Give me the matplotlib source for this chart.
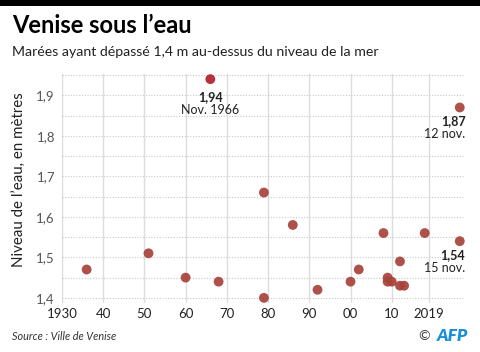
#!/usr/bin/env python3
# -*- coding: utf-8 -*-
import numpy as np
import matplotlib
matplotlib.use("Agg")
import matplotlib.pyplot as plt

# ---------------- Data ----------------
# years of the tides; the two Nov. 2019 tides are drawn in a separate slot right of 2019
YEARS = [1936, 1951, 1960, 1966, 1968, 1979, 1979, 1986, 1992, 2000, 2002,
         2008, 2009, 2009, 2010, 2012, 2012, 2013, 2018, 2026.5, 2026.5]
LEVELS = [1.47, 1.51, 1.45, 1.94, 1.44, 1.66, 1.40, 1.58, 1.42, 1.44, 1.47,
          1.56, 1.45, 1.44, 1.44, 1.49, 1.43, 1.43, 1.56, 1.87, 1.54]

XTICKS = [1930, 1940, 1950, 1960, 1970, 1980, 1990, 2000, 2010, 2019]
XTICK_LABELS = ["1930", "40", "50", "60", "70", "80", "90", "00", "10", "2019"]
YTICKS = [1.4, 1.5, 1.6, 1.7, 1.8, 1.9]
YTICK_LABELS = ["1,4", "1,5", "1,6", "1,7", "1,8", "1,9"]

# bold value, date label, index of point
NOTES = [("1,94", "Nov. 1966", 3), ("1,87", "12 nov.", 19), ("1,54", "15 nov.", 20)]

FONT = "Lato"
DOT = "#a6423a"
DOT_HI = "#b01e2c"
GRID = "#dddddd"
TXT = "#222222"
TICK = "#555555"

plt.rcParams["font.family"] = [FONT, "DejaVu Sans"]

fig = plt.figure(figsize=(4.8, 3.52), dpi=100)
ax = fig.add_axes([0.129, 0.140, 0.840, 0.649])

# ---------------- Grid ----------------
for x in XTICKS:
    ax.axvline(x, color=GRID, lw=1.0, zorder=0)
for y in np.arange(1.40, 1.951, 0.05):
    ax.axhline(y, color="#c8c8c8", lw=0.8, ls=(0, (1, 1.5)), zorder=0)

# ---------------- Points ----------------
colors = [DOT_HI if lv == max(LEVELS) else DOT for lv in LEVELS]
ax.scatter(YEARS, LEVELS, s=50, c=colors, alpha=0.92, edgecolors="none",
           zorder=3, clip_on=False)

# ---------------- Annotations ----------------
i = NOTES[0][2]
ax.annotate(NOTES[0][0], (YEARS[i], LEVELS[i]), xytext=(0, -13), textcoords="offset points",
            ha="center", va="center", fontsize=9, fontweight="bold", color=TXT)
ax.annotate(NOTES[0][1], (YEARS[i], LEVELS[i]), xytext=(0, -22), textcoords="offset points",
            ha="center", va="center", fontsize=9, color=TXT)
for val, lab, i in NOTES[1:]:
    ax.annotate(val, (YEARS[i], LEVELS[i]), xytext=(4, -10), textcoords="offset points",
                ha="right", va="center", fontsize=9, fontweight="bold", color=TXT)
    ax.annotate(lab, (YEARS[i], LEVELS[i]), xytext=(4, -19), textcoords="offset points",
                ha="right", va="center", fontsize=9, color=TXT)

# ---------------- Axes ----------------
ax.set_xlim(1930, 2027.8)
ax.set_ylim(1.388, 1.952)
ax.set_xticks(XTICKS)
ax.set_xticklabels(XTICK_LABELS)
ax.set_yticks(YTICKS)
ax.set_yticklabels(YTICK_LABELS)
ax.tick_params(length=0, labelsize=9.5, colors=TICK, pad=5)
ax.tick_params(axis="x", colors=TXT, pad=4)
for s in ax.spines.values():
    s.set_visible(False)
ax.set_ylabel("Niveau de l\u2019eau, en mètres", fontsize=10.8, color=TXT)
ax.yaxis.set_label_coords(-0.088, 0.54)

# ---------------- Titles / footer ----------------
fig.add_artist(plt.Line2D([0, 1], [0.995, 0.995], color="black", lw=5,
                          transform=fig.transFigure))
fig.text(0.025, 0.928, "Venise sous l\u2019eau", fontsize=17, fontweight="bold",
         color="black", va="center", ha="left")
fig.text(0.025, 0.852, "Marées ayant dépassé 1,4 m au-dessus du niveau de la mer",
         fontsize=10.2, color=TXT, va="center", ha="left")
fig.text(0.025, 0.043, "Source : Ville de Venise", fontsize=7.8, style="italic",
         color="#333333", va="center", ha="left")
fig.text(0.895, 0.045, "\u00a9", fontsize=10, color="#333333", va="center", ha="right")
fig.text(0.975, 0.045, "AFP", fontsize=12.5, fontweight="heavy", style="italic",
         color="#1a8fd8", va="center", ha="right")

fig.savefig("out.png", dpi=100)
